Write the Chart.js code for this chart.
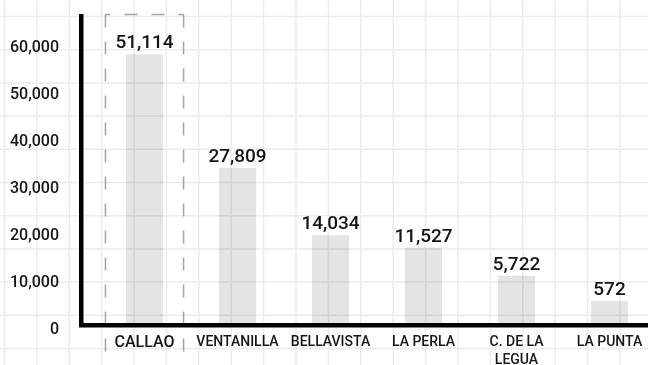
<!DOCTYPE html>
<html>
<head>
<meta charset="utf-8">
<script src="https://cdn.jsdelivr.net/npm/chart.js@4.4.1/dist/chart.umd.min.js"></script>
<style>
  html, body { margin: 0; padding: 0; background: #fff; }
  #wrap { width: 648px; height: 365px; }
</style>
</head>
<body>
<div id="wrap"><canvas id="districtChart" width="648" height="365"></canvas></div>
<script>
// distritos de la provincia del Callao
const districts = ['CALLAO', 'VENTANILLA', 'BELLAVISTA', 'LA PERLA', ['C. DE LA', 'LEGUA'], 'LA PUNTA'];
const population = [51114, 27809, 14034, 11527, 5722, 572];
const yTicks = [0, 10000, 20000, 30000, 40000, 50000, 60000];
const highlighted = 0;

const fmt = v => v.toLocaleString('en-US');

// papel cuadriculado de fondo
const paperGrid = {
  id: 'paperGrid',
  beforeDraw(chart) {
    const { ctx, width, height } = chart;
    ctx.save();
    ctx.fillStyle = '#fff';
    ctx.fillRect(0, 0, width, height);
    ctx.strokeStyle = '#ececec';
    ctx.lineWidth = 1.5;
    ctx.beginPath();
    for (let x = 4.4; x < width; x += 32.4) {
      ctx.moveTo(x, 0);
      ctx.lineTo(x, height);
    }
    for (let y = 16.5; y < height; y += 33.2) {
      ctx.moveTo(0, y);
      ctx.lineTo(width, y);
    }
    ctx.stroke();

    // recuadro punteado del distrito destacado
    const xs = chart.scales.x;
    const left = xs.getPixelForValue(highlighted - 0.42);
    const right = xs.getPixelForValue(highlighted + 0.42);
    const top = chart.chartArea.top - 2;
    ctx.strokeStyle = '#a3a3a3';
    ctx.lineWidth = 1.5;
    ctx.setLineDash([13, 14]);
    ctx.beginPath();
    ctx.moveTo(left, top);
    ctx.lineTo(left, height + 5);
    ctx.moveTo(right, top);
    ctx.lineTo(right, height + 5);
    ctx.stroke();
    ctx.lineDashOffset = 8;
    ctx.beginPath();
    ctx.moveTo(left, top);
    ctx.lineTo(right, top);
    ctx.stroke();
    ctx.restore();
  }
};

const valueLabels = {
  id: 'valueLabels',
  afterDatasetsDraw(chart) {
    const { ctx } = chart;
    const meta = chart.getDatasetMeta(0);
    ctx.save();
    ctx.font = '500 19px Roboto';
    ctx.fillStyle = '#141414';
    ctx.textAlign = 'center';
    ctx.textBaseline = 'alphabetic';
    meta.data.forEach((bar, i) => {
      ctx.fillText(fmt(population[i]), bar.x, bar.y - 6);
    });
    ctx.restore();
  }
};

new Chart(document.getElementById('districtChart'), {
  type: 'bar',
  data: {
    datasets: [{
      data: population.map((v, i) => ({ x: i, y: v })),
      yAxisID: 'yBar',
      base: -4342,
      backgroundColor: 'rgba(0, 0, 0, 0.105)',
      borderWidth: 0,
      categoryPercentage: 1,
      barPercentage: 0.4
    }]
  },
  options: {
    responsive: false,
    animation: false,
    layout: { padding: { top: 16.5, right: 0, bottom: 0, left: 0 } },
    plugins: { legend: { display: false }, tooltip: { enabled: false } },
    scales: {
      x: {
        type: 'linear',
        offset: false,
        min: -0.683,
        max: 5.414,
        afterBuildTicks: s => { s.ticks = districts.map((_, i) => ({ value: i })); },
        afterFit: s => {
          s.height = 40;
          s.paddingLeft = s.paddingRight = s.paddingTop = s.paddingBottom = 0;
        },
        grid: { display: false, drawTicks: false, offset: false },
        border: { display: true, color: '#000', width: 4.5 },
        ticks: {
          callback: v => districts[v],
          color: '#161616',
          padding: 8,
          maxRotation: 0,
          autoSkip: false,
          font: c => ({ family: 'Roboto', weight: '500', size: c.index === highlighted ? 16 : 14, lineHeight: 1.3 })
        }
      },
      y: {
        min: 0,
        max: 65640,
        afterBuildTicks: s => { s.ticks = yTicks.map(v => ({ value: v })); },
        afterFit: s => {
          s.width = 81;
          s.paddingLeft = s.paddingRight = s.paddingTop = s.paddingBottom = 0;
        },
        grid: { display: false, drawTicks: false },
        border: { display: true, color: '#000', width: 4.5 },
        ticks: {
          padding: 22,
          labelOffset: 5,
          color: '#161616',
          font: { family: 'Roboto', weight: '500', size: 16 },
          callback: v => fmt(v)
        }
      },
      yBar: {
        display: false,
        min: -4342,
        max: 58849
      }
    }
  },
  plugins: [paperGrid, valueLabels]
});
</script>
</body>
</html>
